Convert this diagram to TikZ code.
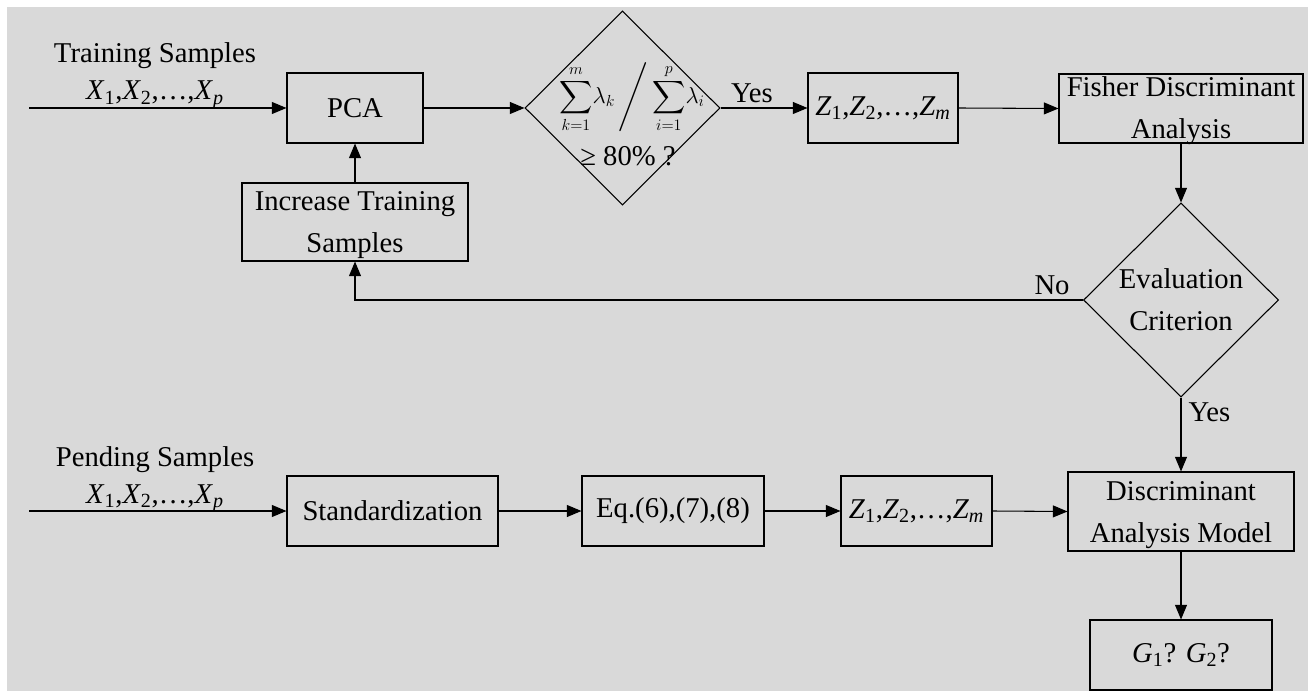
\documentclass[tikz,border=0pt]{standalone}
\usepackage{amsmath}
\usepackage{fontspec}
\setmainfont{Liberation Serif}
\usetikzlibrary{shapes.geometric,arrows.meta}
\definecolor{bggray}{HTML}{D9D9D9}
\newcommand{\vx}[2]{\textit{#1}\textsubscript{#2}}
\begin{document}
\begin{tikzpicture}[x=0.75pt,y=-0.75pt,
  font=\fontsize{21.5}{31.5}\selectfont, line width=0.8pt,
  box/.style={draw, rectangle, inner sep=0pt, align=center, minimum height=52.5pt},
  dia/.style={draw, diamond, inner sep=0pt, minimum width=146.25pt, minimum height=145.5pt},
  arr/.style={-{Triangle[length=11pt,width=9pt]}},
  lbl/.style={inner sep=0pt, align=center}]
\useasboundingbox (0,0) rectangle (1308,691);
\fill[bggray] (7,7) rectangle (1308,691);

% top row
\node[box, minimum width=102pt] (pca) at (355,108) {PCA};
\node[dia] (d1) at (622.5,108) {};
\node[lbl, font=\fontsize{17}{20}\selectfont] (frac) at (632,98) {$\displaystyle\sum_{k=1}^{m}\!\lambda_k\,\Bigg/\sum_{i=1}^{p}\!\lambda_i$};
\node[lbl, anchor=base] (pct) at (628,166) {≥ 80\% ?};
\node[box, minimum width=112.5pt] (z1) at (883,108) {\vx{Z}{1},\vx{Z}{2},…,\vx{Z}{\textit{m}}};
\node[box, minimum width=183pt, minimum height=51.75pt] (fda) at (1181,108.5) {};
\node[lbl] (fdatxt) at (1181,111) {Fisher Discriminant\\Analysis};
\node[dia] (eval) at (1181,300) {};
\node[lbl] (evtxt) at (1181,300) {Evaluation\\Criterion};
\node[box, minimum width=169.5pt, minimum height=58.5pt] (inc) at (355,222) {};
\node[lbl] (inctxt) at (355,225) {Increase Training\\Samples};

% bottom row
\node[box, minimum width=158.25pt] (std) at (392.5,511) {Standardization};
\node[box, minimum width=136.5pt] (eq) at (673,511) {Eq.(6),(7),(8)};
\node[box, minimum width=113.25pt] (z2) at (916.5,511) {\vx{Z}{1},\vx{Z}{2},…,\vx{Z}{\textit{m}}};
\node[box, minimum width=169.5pt, minimum height=59.25pt] (dam) at (1181,511.5) {};
\node[lbl] (damtxt) at (1181,515) {Discriminant\\Analysis Model};
\node[box, minimum width=136.5pt] (g) at (1181,655) {\vx{G}{1}? \vx{G}{2}?};

% inputs
\coordinate (tin) at (29,108);
\coordinate (pin) at (29,511);
\node[lbl, anchor=base] (trn) at (155,63) {Training Samples};
\node[lbl, anchor=base] (trnx) at (155,100) {\vx{X}{1},\vx{X}{2},…,\vx{X}{\textit{p}}};
\node[lbl, anchor=base] (pnd) at (155,466) {Pending Samples};
\node[lbl, anchor=base] (pndx) at (155,503) {\vx{X}{1},\vx{X}{2},…,\vx{X}{\textit{p}}};

% connectors
\draw[arr] (tin) -- (pca.west);
\draw[arr] (pca.east) -- (d1.west);
\draw[arr] (d1.east) -- (z1.west);
\node[lbl, anchor=base] (yes1) at (752,103) {Yes};
\draw[arr] (z1.east) -- (fda.west);
\draw[arr] (fda.south) -- (eval.north);
\draw[arr] (eval.west) -| (inc.south);
\node[lbl, anchor=base] (no) at (1052,295) {No};
\draw[arr] (inc.north) -- (pca.south);
\draw[arr] (eval.south) -- (dam.north);
\node[lbl, anchor=base west] (yes2) at (1188,421) {Yes};
\draw[arr] (pin) -- (std.west);
\draw[arr] (std.east) -- (eq.west);
\draw[arr] (eq.east) -- (z2.west);
\draw[arr] (z2.east) -- (dam.west);
\draw[arr] (dam.south) -- (g.north);
\end{tikzpicture}
\end{document}
